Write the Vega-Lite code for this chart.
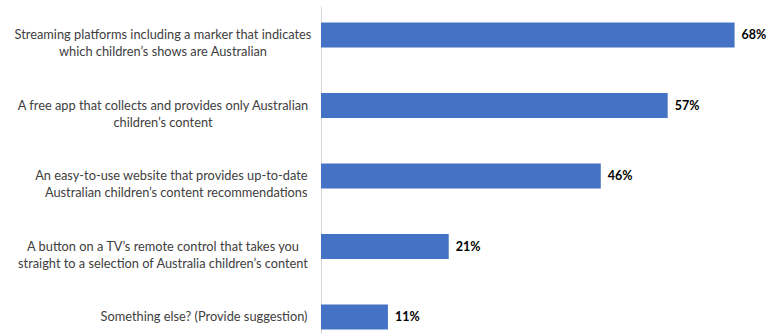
{
  "$schema": "https://vega.github.io/schema/vega-lite/v6.json",
  "width": 444,
  "height": 328,
  "autosize": {"type": "none"},
  "padding": {"left": 321, "top": 6, "right": 5, "bottom": 0},
  "background": "white",
  "config": {"view": {"stroke": null}, "font": "Lato"},
  "data": {
    "values": [
      {"option": "Streaming platforms including a marker that indicates|which children’s shows are Australian", "pct": 0.68},
      {"option": "A free app that collects and provides only Australian|children’s content", "pct": 0.57},
      {"option": "An easy-to-use website that provides up-to-date|Australian children’s content recommendations", "pct": 0.46},
      {"option": "A button on a TV’s remote control that takes you|straight to a selection of Australia children’s content", "pct": 0.21},
      {"option": "Something else? (Provide suggestion)", "pct": 0.11}
    ]
  },
  "encoding": {
    "x": {
      "field": "pct",
      "type": "quantitative",
      "scale": {"domain": [0, 0.73], "nice": false},
      "axis": null
    }
  },
  "layer": [
    {
      "mark": {"type": "bar", "color": "#4472C4"},
      "encoding": {
        "y": {
          "field": "option",
          "type": "nominal",
          "sort": null,
          "scale": {"type": "band", "paddingInner": 0.645, "paddingOuter": 0.149, "align": 0.786},
          "axis": {
            "title": null,
            "orient": "left",
            "labelExpr": "(indexof(datum.value, '|') < 0 || indexof(datum.value, 'website') >= 0) ? '' : split(datum.value, '|')",
            "labelFont": "Lato",
            "labelFontSize": 12.8,
            "labelColor": "#404040",
            "labelLineHeight": 17,
            "labelAlign": "center",
            "labelPadding": 158.5,
            "labelLimit": 400,
            "ticks": false,
            "domainColor": "#d9d9d9",
            "domainWidth": 1
          }
        }
      }
    },
    {
      "mark": {"type": "text", "align": "left", "baseline": "middle", "dx": 7, "fontWeight": "bold", "fontSize": 12.5, "color": "#000000", "font": "Lato"},
      "encoding": {
        "y": {
          "field": "option",
          "type": "nominal",
          "sort": null,
          "scale": {"type": "band", "paddingInner": 0.645, "paddingOuter": 0.149, "align": 0.786},
          "axis": {
            "title": null,
            "orient": "left",
            "labelExpr": "(indexof(datum.value, '|') < 0 || indexof(datum.value, 'website') >= 0) ? split(datum.value, '|') : ''",
            "labelFont": "Lato",
            "labelFontSize": 12.8,
            "labelColor": "#404040",
            "labelLineHeight": 17,
            "labelAlign": "right",
            "labelPadding": 14,
            "labelLimit": 400,
            "ticks": false,
            "domain": false
          }
        },
        "text": {"field": "pct", "type": "quantitative", "format": ".0%"}
      }
    }
  ],
  "resolve": {"scale": {"y": "independent"}, "axis": {"y": "independent"}}
}
